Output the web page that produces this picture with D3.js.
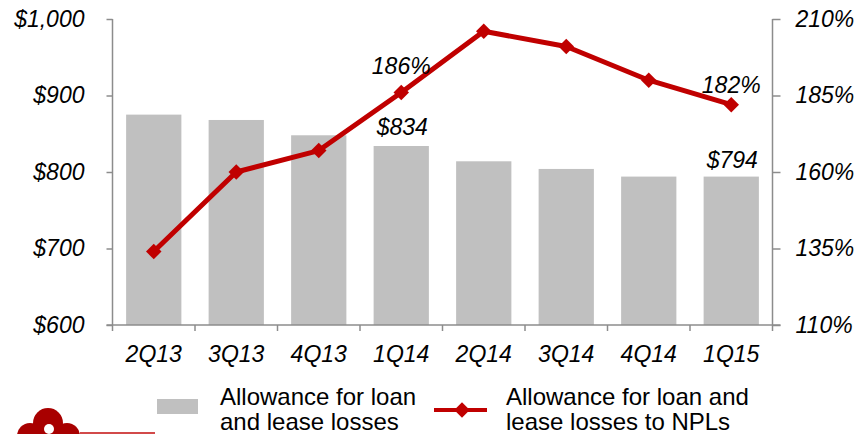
<!DOCTYPE html>
<html>
<head>
<meta charset="utf-8">
<script src="https://cdn.jsdelivr.net/npm/d3@7"></script>
<style>
  body { margin: 0; background: #fff; }
  svg { display: block; font-family: "Liberation Sans", Arial, sans-serif; }
  .axis path, .axis line { stroke: #8c8c8c; stroke-width: 1.5px; }
  .axis text { font-size: 23px; font-style: italic; fill: #000; }
</style>
</head>
<body>
<svg id="chart" width="865" height="434"></svg>
<script>
// Quarterly allowance ($M) and allowance / NPL ratio (%)
const quarters = ["2Q13", "3Q13", "4Q13", "1Q14", "2Q14", "3Q14", "4Q14", "1Q15"];
const allowance = [875, 868, 848, 834, 814, 804, 794, 794];
const coverage = [134, 160, 167, 186, 206, 201, 190, 182];

const leftTicks = [600, 700, 800, 900, 1000];
const rightTicks = [110, 135, 160, 185, 210];

// only these points carry a value label in the original
const barLabels = [{ q: "1Q14", text: "$834" }, { q: "1Q15", text: "$794" }];
const lineLabels = [{ q: "1Q14", text: "186%" }, { q: "1Q15", text: "182%" }];

const legendItems = [
    { type: "bar", lines: ["Allowance for loan", "and lease losses"] },
    { type: "line", lines: ["Allowance for loan and", "lease losses to NPLs"] }
];

const barColor = "#c0c0c0";
const lineColor = "#c00000";

const svg = d3.select("#chart");

// plot box
const plotLeft = 112.5, plotRight = 772.5, plotTop = 19, plotBottom = 325;

const x = d3.scaleBand()
    .domain(quarters)
    .range([plotLeft, plotRight])
    .paddingInner(0.33)
    .paddingOuter(0.165);

const yLeft = d3.scaleLinear().domain([600, 1000]).range([plotBottom, plotTop]);
const yRight = d3.scaleLinear().domain([110, 210]).range([plotBottom, plotTop]);

const centre = q => x(q) + x.bandwidth() / 2;

// bars
svg.append("g")
    .selectAll("rect")
    .data(quarters)
    .join("rect")
    .attr("x", d => x(d))
    .attr("width", x.bandwidth())
    .attr("y", (d, i) => yLeft(allowance[i]))
    .attr("height", (d, i) => plotBottom - yLeft(allowance[i]))
    .attr("fill", barColor);

// axes
svg.append("g")
    .attr("class", "axis")
    .attr("transform", `translate(${plotLeft},0)`)
    .call(d3.axisLeft(yLeft)
        .tickValues(leftTicks)
        .tickSize(6)
        .tickPadding(22)
        .tickFormat(d => "$" + d3.format(",")(d)))
    .call(g => g.select(".domain").attr("d", `M0,${plotTop}V${plotBottom}`));

svg.append("g")
    .attr("class", "axis")
    .attr("transform", `translate(${plotRight},0)`)
    .call(d3.axisRight(yRight)
        .tickValues(rightTicks)
        .tickSize(8)
        .tickPadding(15)
        .tickFormat(d => d + "%"))
    .call(g => g.select(".domain").attr("d", `M0,${plotTop}V${plotBottom}`))
    .call(g => g.selectAll("text").attr("font-size", 24));

// bottom axis: boundary ticks, labels under each bar
const step = x.step();
const bounds = quarters.map(q => x(q) - step * x.paddingInner() / 2).concat([plotRight]);
const xAxis = svg.append("g").attr("class", "axis");
xAxis.append("path").attr("d", `M${plotLeft - 6},${plotBottom}H${plotRight + 8}`).attr("fill", "none");
xAxis.selectAll("line")
    .data(bounds)
    .join("line")
    .attr("x1", d => d).attr("x2", d => d)
    .attr("y1", plotBottom).attr("y2", plotBottom + 6);
xAxis.selectAll("text")
    .data(quarters)
    .join("text")
    .attr("x", d => centre(d))
    .attr("y", 362)
    .attr("text-anchor", "middle")
    .text(d => d);

// line + diamond markers
const line = d3.line()
    .x((d, i) => centre(quarters[i]))
    .y(d => yRight(d));

svg.append("path")
    .datum(coverage)
    .attr("d", line)
    .attr("fill", "none")
    .attr("stroke", lineColor)
    .attr("stroke-width", 5)
    .attr("stroke-linejoin", "round");

const diamond = d3.symbol().type(d3.symbolSquare).size(120);
svg.append("g")
    .selectAll("path")
    .data(coverage)
    .join("path")
    .attr("d", diamond)
    .attr("transform", (d, i) => `translate(${centre(quarters[i])},${yRight(d)}) rotate(45)`)
    .attr("fill", lineColor);

// value labels
svg.append("g")
    .selectAll("text")
    .data(lineLabels)
    .join("text")
    .attr("x", d => centre(d.q))
    .attr("y", (d, i) => yRight(coverage[quarters.indexOf(d.q)]) - (i === 0 ? 18 : 12))
    .attr("text-anchor", "middle")
    .attr("font-size", 23)
    .attr("font-style", "italic")
    .text(d => d.text);

svg.append("g")
    .selectAll("text")
    .data(barLabels)
    .join("text")
    .attr("x", d => centre(d.q) + 1)
    .attr("y", (d, i) => yLeft(allowance[quarters.indexOf(d.q)]) - (i === 0 ? 11 : 9))
    .attr("text-anchor", "middle")
    .attr("font-size", 23)
    .attr("font-style", "italic")
    .text(d => d.text);

// legend
const legend = svg.append("g");
const legendX = [157, 434];
legendItems.forEach((item, k) => {
    const g = legend.append("g").attr("transform", `translate(${legendX[k]},0)`);
    if (item.type === "bar") {
        g.append("rect").attr("x", 0).attr("y", 399).attr("width", 41).attr("height", 15).attr("fill", barColor);
    } else {
        g.append("line").attr("x1", 0).attr("x2", 53).attr("y1", 410).attr("y2", 410)
            .attr("stroke", lineColor).attr("stroke-width", 4);
        g.append("path").attr("d", diamond).attr("transform", "translate(28,410) rotate(45)").attr("fill", lineColor);
    }
    g.selectAll("text")
        .data(item.lines)
        .join("text")
        .attr("x", item.type === "bar" ? 63 : 72)
        .attr("y", (d, i) => 405 + i * 25)
        .attr("font-size", 24)
        .text(d => d);
});

// cropped logo in the bottom-left corner
const logo = svg.append("g").attr("fill", "#a80000");
logo.append("circle").attr("cx", 48).attr("cy", 423).attr("r", 15);
logo.append("circle").attr("cx", 30).attr("cy", 436).attr("r", 13);
logo.append("circle").attr("cx", 67).attr("cy", 436).attr("r", 13);
logo.append("circle").attr("cx", 49).attr("cy", 429).attr("r", 5).attr("fill", "#fff");
logo.append("rect").attr("x", 80).attr("y", 432).attr("width", 75).attr("height", 2).attr("fill", "#d24a4a");
</script>
</body>
</html>
